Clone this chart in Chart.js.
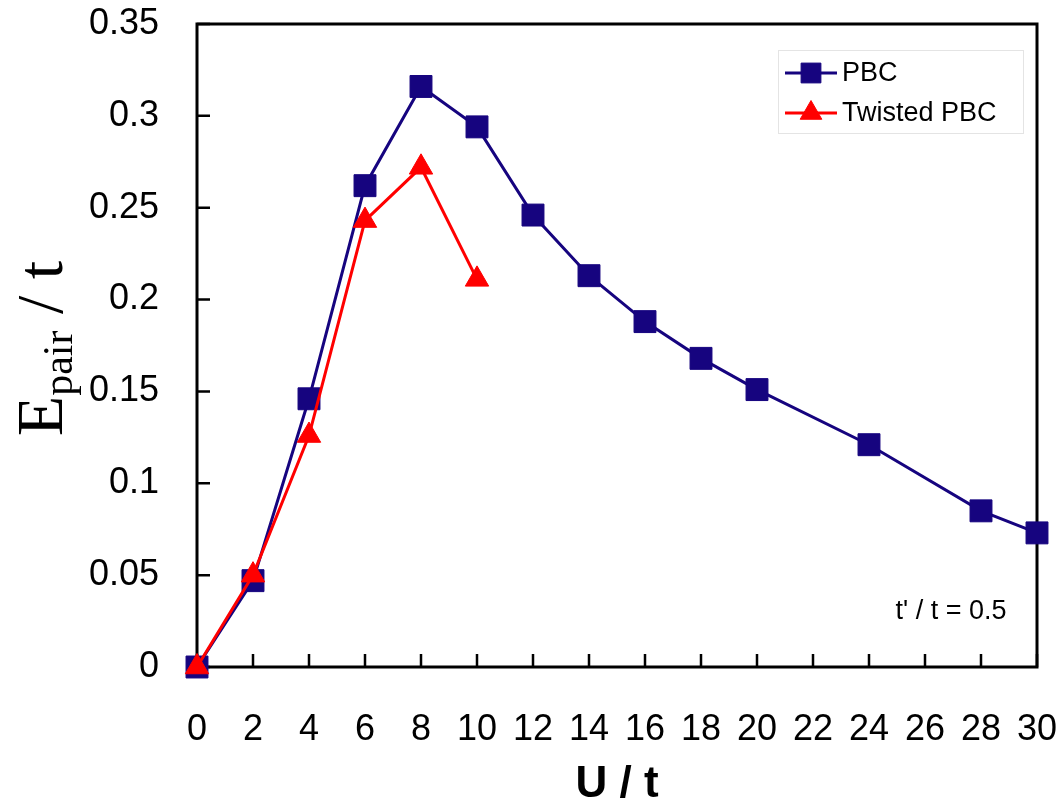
<!DOCTYPE html>
<html>
<head>
<meta charset="utf-8">
<script src="https://cdn.jsdelivr.net/npm/chart.js@4/dist/chart.umd.min.js"></script>
<style>
  body { margin: 0; background: #fff; }
  #wrap { width: 1060px; height: 807px; position: relative; }
</style>
</head>
<body>
<div id="wrap"><canvas id="myChart"></canvas></div>
<script>
// data
var xPBC = [0, 2, 4, 6, 8, 10, 12, 14, 16, 18, 20, 24, 28, 30];
var yPBC = [0, 0.047, 0.146, 0.262, 0.316, 0.294, 0.246, 0.213, 0.188, 0.168, 0.151, 0.121, 0.085, 0.073];
var xTwisted = [0, 2, 4, 6, 8, 10];
var yTwisted = [0, 0.050, 0.126, 0.243, 0.272, 0.211];
var xTicks = [0, 2, 4, 6, 8, 10, 12, 14, 16, 18, 20, 22, 24, 26, 28, 30];
var yTicks = [0, 0.05, 0.1, 0.15, 0.2, 0.25, 0.3, 0.35];
var yTickLabels = ['0', '0.05', '0.1', '0.15', '0.2', '0.25', '0.3', '0.35'];
var seriesNames = ['PBC', 'Twisted PBC'];
var noteText = "t' / t = 0.5";

var navy = '#16047f';
var red = '#ff0000';
var sans = '"Liberation Sans", Arial, sans-serif';
var serif = '"Liberation Serif", "Times New Roman", serif';

function pairs(xs, ys) {
    return xs.map(function (x, i) { return { x: x, y: ys[i] }; });
}

function noPad(scale) {
    scale.paddingTop = 0;
    scale.paddingBottom = 0;
    scale.paddingLeft = 0;
    scale.paddingRight = 0;
}

// frame, inward ticks, legend, note, y title
var extras = {
    id: 'extras',
    beforeDatasetsDraw: function (chart) {
        var ctx = chart.ctx, a = chart.chartArea;
        var xs = chart.scales.x, ys = chart.scales.y;
        ctx.save();
        ctx.strokeStyle = '#000';
        ctx.lineWidth = 3;
        ctx.strokeRect(a.left, a.top, a.right - a.left, a.bottom - a.top);
        ctx.lineWidth = 2.5;
        ctx.beginPath();
        xTicks.forEach(function (v) {
            var px = xs.getPixelForValue(v);
            ctx.moveTo(px, a.bottom);
            ctx.lineTo(px, a.bottom - 13);
        });
        yTicks.forEach(function (v) {
            var py = ys.getPixelForValue(v);
            ctx.moveTo(a.left, py);
            ctx.lineTo(a.left + 13, py);
        });
        ctx.stroke();
        ctx.restore();
    },
    afterDraw: function (chart) {
        var ctx = chart.ctx, a = chart.chartArea;
        ctx.save();

        // legend
        ctx.strokeStyle = '#e4e4e4';
        ctx.lineWidth = 1;
        ctx.strokeRect(778.5, 50.5, 245, 83);
        var rows = [
            { y: 73, color: navy, style: 'rect', r: 14 },
            { y: 113, color: red, style: 'triangle', r: 12.5 }
        ];
        rows.forEach(function (row, i) {
            ctx.strokeStyle = row.color;
            ctx.lineWidth = 3;
            ctx.beginPath();
            ctx.moveTo(785, row.y);
            ctx.lineTo(837, row.y);
            ctx.stroke();
            ctx.fillStyle = row.color;
            ctx.lineWidth = 1;
            Chart.helpers.drawPoint(ctx, { pointStyle: row.style, radius: row.r, rotation: 0, borderWidth: 1 }, 811, row.y);
            ctx.fillStyle = '#000';
            ctx.font = '27px ' + sans;
            ctx.textBaseline = 'middle';
            ctx.textAlign = 'left';
            ctx.fillText(seriesNames[i], 842, row.y + 1);
        });

        // annotation
        ctx.fillStyle = '#000';
        ctx.font = '27px ' + sans;
        ctx.textAlign = 'center';
        ctx.textBaseline = 'middle';
        ctx.fillText(noteText, 951, 612);

        // y axis title with subscript
        ctx.translate(62, (a.top + a.bottom) / 2 + 3);
        ctx.rotate(-Math.PI / 2);
        ctx.textAlign = 'left';
        ctx.textBaseline = 'alphabetic';
        var big = '66px ' + serif, small = '42px ' + serif;
        ctx.font = big; var wE = ctx.measureText('E').width;
        ctx.font = small; var wP = ctx.measureText('pair').width;
        ctx.font = big; var wT = ctx.measureText(' / t').width;
        var x0 = -(wE + wP + wT) / 2;
        ctx.font = big; ctx.fillText('E', x0, 0);
        ctx.font = small; ctx.fillText('pair', x0 + wE, 10);
        ctx.font = big; ctx.fillText(' / t', x0 + wE + wP, 0);
        ctx.restore();
    }
};

var ctx = document.getElementById('myChart').getContext('2d');
var myChart = new Chart(ctx, {
    type: 'line',
    data: {
        datasets: [{
            label: seriesNames[0],
            data: pairs(xPBC, yPBC),
            borderColor: navy,
            backgroundColor: navy,
            borderWidth: 3,
            pointStyle: 'rect',
            pointRadius: 15.5,
            pointBorderWidth: 1,
            pointBackgroundColor: navy,
            pointBorderColor: navy,
            tension: 0,
            clip: false,
            order: 2
        }, {
            label: seriesNames[1],
            data: pairs(xTwisted, yTwisted),
            borderColor: red,
            backgroundColor: red,
            borderWidth: 3,
            pointStyle: 'triangle',
            pointRadius: 13.5,
            pointBorderWidth: 1,
            pointBackgroundColor: red,
            pointBorderColor: red,
            tension: 0,
            clip: false,
            order: 1
        }]
    },
    options: {
        responsive: true,
        maintainAspectRatio: false,
        animation: false,
        layout: { padding: { top: 24, right: 23, left: 0, bottom: 0 } },
        plugins: {
            legend: { display: false },
            tooltip: { enabled: false }
        },
        scales: {
            x: {
                type: 'linear',
                min: 0,
                max: 30,
                afterBuildTicks: function (scale) {
                    scale.ticks = xTicks.map(function (v) { return { value: v }; });
                },
                afterFit: function (scale) { scale.height = 140; noPad(scale); },
                grid: { display: false },
                border: { display: false },
                ticks: {
                    color: '#000',
                    padding: 33,
                    maxRotation: 0,
                    autoSkip: false,
                    font: { family: sans, size: 36 },
                    callback: function (v) { return String(v); }
                },
                title: {
                    display: true,
                    text: 'U / t',
                    color: '#000',
                    font: { family: sans, size: 44, weight: 'bold', lineHeight: 1 },
                    padding: { top: 0, bottom: 0 }
                }
            },
            y: {
                type: 'linear',
                min: 0,
                max: 0.35,
                afterBuildTicks: function (scale) {
                    scale.ticks = yTicks.map(function (v) { return { value: v }; });
                },
                afterFit: function (scale) { scale.width = 197; noPad(scale); },
                grid: { display: false },
                border: { display: false },
                ticks: {
                    color: '#000',
                    padding: 30,
                    autoSkip: false,
                    font: { family: sans, size: 36 },
                    callback: function (v, i) { return yTickLabels[i]; }
                }
            }
        }
    },
    plugins: [extras]
});
</script>
</body>
</html>
